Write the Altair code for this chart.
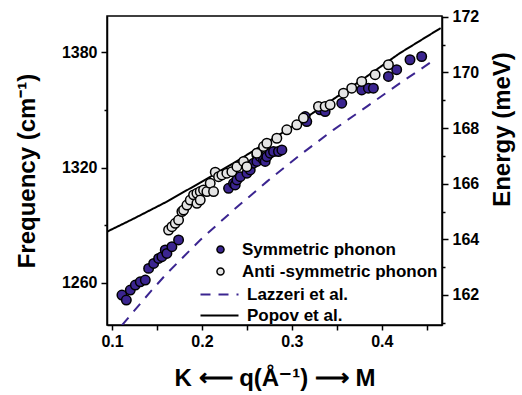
import altair as alt
import pandas as pd

# ---- data ----
sym_q = [0.111, 0.1159, 0.1203, 0.1259, 0.1314, 0.137, 0.1407, 0.1463, 0.1518, 0.1555,
         0.1592, 0.161, 0.1666, 0.174, 0.2296, 0.2351, 0.237, 0.2389, 0.2426, 0.25,
         0.2537, 0.2574, 0.2611, 0.2611, 0.2648, 0.2685, 0.2703, 0.2722, 0.2759, 0.2796,
         0.2851, 0.2889, 0.3148, 0.3166, 0.3314, 0.337, 0.3555, 0.3777, 0.3851, 0.3907,
         0.4074, 0.4166, 0.4314, 0.4444]
sym_f = [1253.6, 1251.0, 1256.2, 1258.8, 1260.5, 1261.4, 1267.5, 1270.1, 1272.7, 1273.6,
         1277.1, 1275.3, 1278.8, 1282.3, 1309.2, 1311.8, 1311.0, 1313.6, 1315.3, 1317.1,
         1318.8, 1322.3, 1326.6, 1323.2, 1325.7, 1324.0, 1323.2, 1325.7, 1327.5, 1328.4,
         1328.4, 1329.2, 1346.6, 1344.0, 1350.1, 1349.2, 1353.6, 1360.5, 1361.4, 1361.4,
         1367.5, 1371.0, 1376.2, 1377.9]

anti_q = [0.1629, 0.1666, 0.1703, 0.174, 0.1777, 0.1796, 0.1833, 0.187, 0.1907, 0.1944,
          0.1944, 0.1981, 0.1981, 0.2018, 0.2055, 0.2092, 0.2129, 0.2148, 0.2185, 0.2222,
          0.2277, 0.2333, 0.2389, 0.2463, 0.25, 0.2611, 0.2685, 0.2722, 0.2833, 0.2944,
          0.3055, 0.3129, 0.3296, 0.337, 0.3426, 0.3574, 0.3666, 0.3777, 0.3926, 0.4074]
anti_f = [1287.5, 1289.2, 1291.0, 1292.7, 1297.1, 1297.9, 1300.5, 1303.1, 1305.8, 1306.6,
          1301.4, 1307.5, 1303.1, 1308.4, 1307.5, 1311.8, 1307.5, 1317.6, 1315.3, 1316.2,
          1317.1, 1317.9, 1320.5, 1323.2, 1320.5, 1327.5, 1331.0, 1332.7, 1335.3, 1339.7,
          1342.3, 1345.8, 1351.9, 1351.9, 1352.7, 1358.8, 1361.4, 1364.9, 1368.4, 1373.6]

lazzeri_q = [0.1111, 0.1426, 0.1611, 0.1981, 0.2351, 0.2722, 0.3092, 0.3463, 0.3833, 0.4203, 0.4574]
lazzeri_f = [1237.9, 1255.3, 1264.9, 1282.3, 1297.9, 1312.7, 1326.6, 1339.7, 1351.8, 1364.0, 1375.8]

popov_q = [0.0944, 0.124, 0.1611, 0.1981, 0.2351, 0.2722, 0.3092, 0.3463, 0.3833, 0.4203, 0.4655]
popov_f = [1286.6, 1293.4, 1302.3, 1312.2, 1322.3, 1333.1, 1344.0, 1355.7, 1367.5, 1379.7, 1392.7]

energy_ticks = [161, 162, 163, 164, 165, 166, 167, 168, 169, 170, 171, 172]
freq_ticks = [1260, 1290, 1320, 1350, 1380]
q_ticks = [0.1, 0.15, 0.2, 0.25, 0.3, 0.35, 0.4, 0.45]

point_names = ["Symmetric phonon", "Anti -symmetric phonon"]
line_names = ["Lazzeri et al.", "Popov et al."]

PURPLE = "#3b2590"
GRAY = "#e4e4e4"
FONT = "Liberation Sans"

pts = pd.concat([
    pd.DataFrame({"q": sym_q, "f": sym_f, "series": point_names[0]}),
    pd.DataFrame({"q": anti_q, "f": anti_f, "series": point_names[1]}),
])
lines = pd.concat([
    pd.DataFrame({"q": lazzeri_q, "f": lazzeri_f, "model": line_names[0], "o": range(len(lazzeri_q))}),
    pd.DataFrame({"q": popov_q, "f": popov_f, "model": line_names[1], "o": range(len(popov_q))}),
])
etk = pd.DataFrame({"e": energy_ticks})

xscale = alt.Scale(domain=[0.0944, 0.467], nice=False, zero=False)
yscale = alt.Scale(domain=[1238, 1399], nice=False, zero=False)

xaxis = alt.Axis(
    values=q_ticks,
    labelExpr="abs(datum.value*10 - round(datum.value*10)) < 0.001 ? format(datum.value, '.1f') : ''",
    title="K  \u27f5  q(\u00c5\u207b\u00b9)  \u27f6  M",
    titlePadding=17, tickSize=5, labelPadding=3, grid=False,
)
yaxis = alt.Axis(
    values=freq_ticks, format="d",
    labelExpr="datum.value % 60 == 0 ? datum.label : ''",
    title="Frequency (cm\u207b\u00b9)",
    tickSize={"condition": {"test": "datum.value % 60 == 0", "value": 6}, "value": 3},
    titlePadding=22, labelPadding=4, grid=False,
)

line_legend = alt.Legend(title=None, orient="none", legendX=102, legendY=268,
                         symbolType="M-2,0H2", symbolSize=361, symbolStrokeWidth=2,
                         labelOffset=17, rowPadding=2, labelLimit=400)

lines_layer = alt.Chart(lines).mark_line(clip=True, strokeWidth=2).encode(
    x=alt.X("q:Q", scale=xscale, axis=xaxis),
    y=alt.Y("f:Q", scale=yscale, axis=yaxis),
    order="o:Q",
    stroke=alt.Stroke("model:N", scale=alt.Scale(domain=line_names, range=[PURPLE, "black"]),
                      legend=line_legend),
    strokeDash=alt.StrokeDash("model:N", scale=alt.Scale(domain=line_names, range=[[10, 8], [1, 0]]),
                              legend=line_legend),
)

pts_layer = alt.Chart(pts).mark_point(filled=True, opacity=1, size=90, stroke="black",
                                      strokeWidth=1.5, shape="circle").encode(
    x=alt.X("q:Q", scale=xscale),
    y=alt.Y("f:Q", scale=yscale),
    fill=alt.Fill("series:N", scale=alt.Scale(domain=point_names, range=[PURPLE, GRAY]),
                  legend=alt.Legend(title=None, orient="none", legendX=105, legendY=225,
                                    symbolType="circle", symbolSize=50, symbolStrokeColor="black",
                                    symbolStrokeWidth=1.5, labelOffset=13, rowPadding=4,
                                    labelLimit=400)),
)

main = alt.layer(lines_layer, pts_layer)

right_layer = alt.Chart(etk).mark_point(opacity=0).encode(
    y=alt.Y("e:Q", scale=alt.Scale(domain=[160.92, 172.03], nice=False, zero=False),
            axis=alt.Axis(orient="right", values=energy_ticks, format="d",
                          labelExpr="datum.value % 2 == 0 ? datum.label : ''",
                          tickSize={"condition": {"test": "datum.value % 2 == 0", "value": 6}, "value": 3},
                          title="Energy (meV)", titleAngle=270, titleX=60, titleY=113,
                          titleAlign="center", titleBaseline="middle",
                          labelPadding=4, grid=False)),
)

chart = alt.layer(main, right_layer).resolve_scale(
    y="independent"
).properties(
    width=335, height=309,
    autosize=alt.AutoSizeParams(type="none"),
    padding={"left": 107, "top": 16, "right": 80, "bottom": 70},
).configure_view(
    stroke="black", strokeWidth=1.5
).configure_axis(
    labelFont=FONT, labelFontSize=16, labelFontWeight="bold", labelColor="black",
    titleFont=FONT, titleFontSize=24, titleFontWeight="bold", titleColor="black",
    domainColor="black", domainWidth=1.5, tickColor="black", tickWidth=1.5,
).configure_legend(
    labelFont=FONT, labelFontSize=17, labelFontWeight="bold", labelColor="black",
    padding=0,
)

chart.save("out.html", embed_options={"renderer": "svg", "actions": False})
